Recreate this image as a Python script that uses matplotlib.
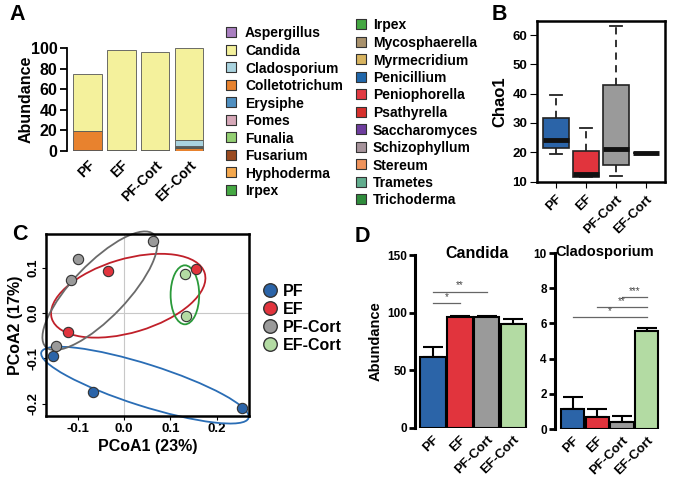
import numpy as np
import matplotlib.pyplot as plt
from matplotlib.patches import Ellipse

plt.rcParams['font.family'] = ['Liberation Sans', 'DejaVu Sans']
plt.rcParams['font.weight'] = 'bold'
plt.rcParams['axes.labelweight'] = 'bold'

W, H = 676, 488

groups = ['PF', 'EF', 'PF-Cort', 'EF-Cort']
group_colors = ['#2b64a8', '#e1343d', '#9a9a9a', '#b3dba3']

# --- A: genus relative abundance
genera = ['Aspergillus', 'Candida', 'Cladosporium', 'Colletotrichum', 'Erysiphe',
          'Fomes', 'Funalia', 'Fusarium', 'Hyphoderma', 'Irpex',
          'Mycosphaerella', 'Myrmecridium', 'Penicillium', 'Peniophorella',
          'Psathyrella', 'Saccharomyces', 'Schizophyllum', 'Stereum',
          'Trametes', 'Trichoderma']
genus_colors = ['#a97fc0', '#f4f19c', '#a9d3df', '#e8822e', '#4f8fc0',
                '#d6a8b8', '#93cf72', '#9a4a20', '#f4a84e', '#45a843',
                '#a8916c', '#d8b460', '#2067ab', '#e23a42', '#d6302c',
                '#6e3d9e', '#a6939b', '#ef935c', '#62ad8e', '#2f8c3c']
stack_order = ['Fusarium', 'Colletotrichum', 'Trichoderma', 'Trametes', 'Cladosporium', 'Candida']
abund_pf = [0.6, 19.0, 0.0, 0.0, 0.0, 55.4]
abund_ef = [0.6, 0.0, 0.0, 0.0, 0.0, 97.4]
abund_pfc = [0.6, 0.0, 0.0, 0.0, 0.0, 95.8]
abund_efc = [0.0, 2.5, 1.0, 1.5, 5.5, 89.5]
legend_col1 = genera[:10]
legend_col2 = genera[9:]   # Irpex shows up again at top of 2nd column

# --- B: Chao1 boxplot stats
chao_lo = [19.5, 11.5, 12.0, 19.6]
chao_q1 = [21.5, 11.7, 15.5, 19.6]
chao_med = [24.0, 12.7, 21.2, 19.6]
chao_q3 = [31.7, 20.5, 43.0, 19.6]
chao_hi = [39.5, 28.3, 63.0, 19.6]

# --- C: PCoA
pc_x = [[-0.153, -0.067, 0.254],
        [-0.034, -0.120, 0.155],
        [0.062, -0.099, -0.114, -0.146],
        [0.131, 0.133]]
pc_y = [[-0.095, -0.174, -0.210],
        [0.093, -0.042, 0.097],
        [0.159, 0.119, 0.073, -0.073],
        [0.086, -0.007]]
ell_cx = [0.045, 0.009, -0.052, 0.131]
ell_cy = [-0.159, 0.038, 0.049, 0.040]
ell_w = [0.469, 0.344, 0.340, 0.0615]
ell_h = [0.092, 0.162, 0.118, 0.130]
ell_ang = [-18, 17, 47, 0]
ell_colors = ['#2a6db5', '#c0202a', '#6a6a6a', '#2a9a3a']

# --- D: abundance of two genera
candida_mean = [61.6, 96.2, 96.0, 90.2]
candida_err = [8.6, 1.0, 1.0, 4.3]
clado_mean = [1.14, 0.68, 0.41, 5.59]
clado_err = [0.68, 0.46, 0.35, 0.15]
sig_candida = [(0, 1, 108, '*'), (0, 2, 118, '**')]
sig_clado = [(0, 3, 6.36, '*'), (1, 3, 6.93, '**'), (2, 3, 7.5, '***')]

fig = plt.figure(figsize=(W / 100, H / 100), dpi=100)


def add_px(l, t, r, b):
    ax = fig.add_axes([l / W, 1 - b / H, (r - l) / W, (b - t) / H])
    ax.set_facecolor('none')
    return ax


# overlay for legends / panel letters, pixel coords
lax = add_px(0, 0, W, H)
lax.set_xlim(0, W)
lax.set_ylim(H, 0)
lax.axis('off')

for s, x, y in [('A', 9, 20), ('B', 492, 20), ('C', 12, 240), ('D', 355, 242)]:
    lax.text(x, y, s, fontsize=15.5, fontweight='bold', va='baseline', ha='left')

for i, g in enumerate(legend_col1):
    y = 32 + 17.55 * i
    lax.scatter(231, y, marker='s', s=52, color=genus_colors[genera.index(g)],
                edgecolors='#333333', linewidths=0.8)
    lax.text(245, y, g, fontsize=10, va='center_baseline')
for i, g in enumerate(legend_col2):
    y = 24 + 17.5 * i
    lax.scatter(361, y, marker='s', s=52, color=genus_colors[genera.index(g)],
                edgecolors='#333333', linewidths=0.8)
    lax.text(373, y, g, fontsize=10, va='center_baseline')

for i, g in enumerate(groups):
    y = 290 + 17.9 * i
    lax.scatter(270, y, s=95, color=group_colors[i], edgecolors='#333333', linewidths=1.0)
    lax.text(283, y, g, fontsize=11.5, va='center_baseline')

# ---------------- A
axA = add_px(67, 48, 207, 151)
xpos = np.arange(4)
stacks = np.array([abund_pf, abund_ef, abund_pfc, abund_efc]).T
bottom = np.zeros(4)
for g, vals in zip(stack_order, stacks):
    axA.bar(xpos, vals, bottom=bottom, width=0.84, color=genus_colors[genera.index(g)],
            edgecolor='#555555', linewidth=0.6)
    bottom += vals
axA.set_ylim(0, 100)
axA.set_xlim(-0.607, 3.535)
for sp in ['top', 'right', 'bottom']:
    axA.spines[sp].set_visible(False)
axA.spines['left'].set_linewidth(1.3)
axA.set_yticks([0, 20, 40, 60, 80, 100])
axA.tick_params(axis='y', labelsize=11.5, length=5, width=1.3, pad=2)
axA.set_xticks(xpos, groups, rotation=45, ha='right', rotation_mode='anchor')
axA.tick_params(axis='x', labelsize=10, length=0, pad=5)
axA.set_ylabel('Abundance', fontsize=11.5)
axA.yaxis.set_label_coords(-0.24, 0.5)

# ---------------- B
axB = add_px(537, 21, 665, 182)
stats = [dict(whislo=chao_lo[i], q1=chao_q1[i], med=chao_med[i], q3=chao_q3[i],
              whishi=chao_hi[i], fliers=[]) for i in range(4)]
bp = axB.bxp(stats, positions=[1, 2, 3, 4], widths=0.86, capwidths=0.42,
             patch_artist=True, showfliers=False,
             boxprops=dict(linewidth=1.2, edgecolor='#222222'),
             whiskerprops=dict(linestyle=(0, (4, 3)), linewidth=1.3, color='#222222'),
             capprops=dict(linewidth=1.3, color='#222222'),
             medianprops=dict(linewidth=3.5, color='#111111', solid_capstyle='butt'))
for patch, c in zip(bp['boxes'], group_colors):
    patch.set_facecolor(c)
axB.set_xlim(0.37, 4.63)
axB.set_ylim(9.83, 64.8)
for sp in axB.spines.values():
    sp.set_linewidth(1.8)
axB.set_yticks([10, 20, 30, 40, 50, 60])
axB.tick_params(axis='y', labelsize=9.5, length=5, pad=2)
axB.set_xticks([1, 2, 3, 4], groups, rotation=45, ha='right', rotation_mode='anchor')
axB.tick_params(axis='x', labelsize=9.5, length=4, pad=4)
axB.set_ylabel('Chao1', fontsize=12)
axB.yaxis.set_label_coords(-0.23, 0.5)

# ---------------- C
axC = add_px(46, 234, 249, 416)
axC.axhline(0, color='#c8c8c8', lw=0.8, zorder=0)
axC.axvline(0, color='#c8c8c8', lw=0.8, zorder=0)
for i in range(4):
    axC.add_patch(Ellipse((ell_cx[i], ell_cy[i]), ell_w[i], ell_h[i], angle=ell_ang[i],
                          fill=False, edgecolor=ell_colors[i], lw=1.3, zorder=2,
                          clip_on=False))
    axC.scatter(pc_x[i], pc_y[i], s=55, color=group_colors[i], edgecolors='#333333',
                linewidths=0.8, zorder=3, clip_on=False)
axC.set_xlim(-0.168, 0.269)
axC.set_ylim(-0.227, 0.174)
for sp in axC.spines.values():
    sp.set_linewidth(1.8)
axC.set_xticks([-0.1, 0.0, 0.1, 0.2], ['-0.1', '0.0', '0.1', '0.2'])
axC.set_yticks([-0.2, -0.1, 0.0, 0.1], ['-0.2', '-0.1', '0.0', '0.1'])
axC.tick_params(labelsize=9.5, length=3, pad=2)
for t in axC.get_yticklabels():
    t.set_rotation(90)
    t.set_va('center')
axC.set_xlabel('PCoA1 (23%)', fontsize=11.5, labelpad=3)
axC.set_ylabel('PCoA2 (17%)', fontsize=11.5, labelpad=3)


# ---------------- D
def bar_panel(ax, means, errs, sigs, ymax, yticks, title, tx, tsize):
    ax.bar(xpos, means, width=0.95, color=group_colors, edgecolor='black', linewidth=1.5, zorder=2)
    ax.errorbar(xpos, means, yerr=[np.zeros(4), errs], fmt='none', ecolor='black',
                elinewidth=1.5, capsize=7, capthick=1.5, zorder=1)
    for a, b, y, lab in sigs:
        ax.plot([a, b], [y, y], color='#666666', lw=0.9)
        ax.text((a + b) / 2, y + ymax * 0.008, lab, ha='center', va='bottom',
                fontsize=7, color='#444444', fontweight='normal')
    ax.set_ylim(0, ymax)
    for sp in ['top', 'right', 'bottom']:
        ax.spines[sp].set_visible(False)
    ax.spines['left'].set_linewidth(2.2)
    ax.set_yticks(yticks)
    ax.tick_params(axis='y', labelsize=8.5, length=4, width=2, pad=2)
    ax.set_xticks(xpos, groups, rotation=45, ha='right', rotation_mode='anchor')
    ax.tick_params(axis='x', labelsize=9.5, length=0, pad=4)
    ax.text(tx, 0.983, title, transform=ax.transAxes, ha='center', va='baseline',
            fontsize=tsize)


axD1 = add_px(415, 255, 530, 428)
bar_panel(axD1, candida_mean, candida_err, sig_candida, 150, [0, 50, 100, 150],
          'Candida', 0.54, 11.5)
axD1.set_xlim(-0.67, 3.62)
axD1.set_ylabel('Abundance', fontsize=10.5)
axD1.yaxis.set_label_coords(-0.28, 0.5)

axD2 = add_px(555, 253, 665, 429)
bar_panel(axD2, clado_mean, clado_err, sig_clado, 10, [0, 2, 4, 6, 8, 10],
          'Cladosporium', 0.455, 10.5)
axD2.set_xlim(-0.71, 3.74)

fig.savefig('out.png', dpi=100)
